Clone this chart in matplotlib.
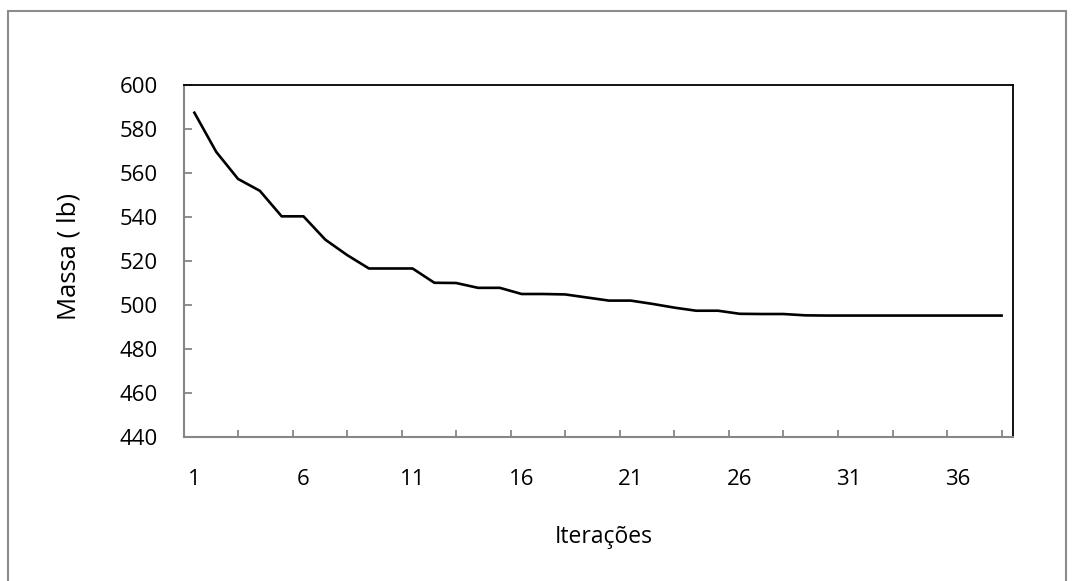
import matplotlib
matplotlib.use("Agg")
import matplotlib.pyplot as plt
from matplotlib.patches import Rectangle

plt.rcParams['font.family'] = ['Open Sans', 'DejaVu Sans']

iterations = list(range(1, 39))
massa = [587.4, 569.6, 557.3, 551.9, 540.3, 540.3, 529.7, 522.7, 516.6, 516.6,
         516.6, 510.1, 510.0, 507.8, 507.8, 505.0, 505.0, 504.8, 503.4, 502.0,
         502.0, 500.5, 498.8, 497.4, 497.4, 496.0, 495.9, 495.9, 495.3, 495.2,
         495.2, 495.2, 495.2, 495.2, 495.2, 495.2, 495.2, 495.2]
xtick_labels = [1, 6, 11, 16, 21, 26, 31, 36]
yticks = [440, 460, 480, 500, 520, 540, 560, 580, 600]

W, H = 1076, 581
fig = plt.figure(figsize=(W / 100, H / 100), dpi=100)
fig.patch.set_facecolor('white')

# outer chart border
fig.patches.append(Rectangle((8 / W, -0.01), (1066 - 8) / W, 1 - 11 / H + 0.01,
                             transform=fig.transFigure, fill=False,
                             edgecolor='#8c8c8c', linewidth=1.5))

left, right, top, bottom = 183.5, 1012.5, 85, 437
ax = fig.add_axes([left / W, 1 - bottom / H, (right - left) / W, (bottom - top) / H])

ax.plot(iterations, massa, color='black', linewidth=1.9, solid_joinstyle='round')

ax.set_xlim(0.5, len(iterations) + 0.5)
ax.set_ylim(440, 600)

ax.set_yticks(yticks)
ax.set_yticklabels([str(v) for v in yticks])
ax.set_xticks(xtick_labels)
ax.set_xticklabels([str(v) for v in xtick_labels])
minor = [0.5 + 2.5 * k for k in range(1, 16)]
ax.set_xticks(minor, minor=True)

ax.tick_params(axis='x', which='major', length=0, pad=23, labelsize=16, colors='black')
ax.tick_params(axis='x', which='minor', direction='in', length=5, width=1.3, color='#868686')
ax.tick_params(axis='y', which='major', direction='in', length=6, width=1.3,
               color='#868686', pad=18.5, labelsize=16, labelcolor='black')

for s in ['top', 'right']:
    ax.spines[s].set_color('black')
    ax.spines[s].set_linewidth(1.3)
for s in ['left', 'bottom']:
    ax.spines[s].set_color('#868686')
    ax.spines[s].set_linewidth(1.5)

fig.text(604 / W, 1 - 537 / H, 'Iterações', ha='center', va='center', fontsize=16.5)
fig.text(69 / W, 1 - 256 / H, 'Massa ( lb)', ha='center', va='center',
         rotation=90, fontsize=18.5)

fig.savefig('out.png', dpi=100)
